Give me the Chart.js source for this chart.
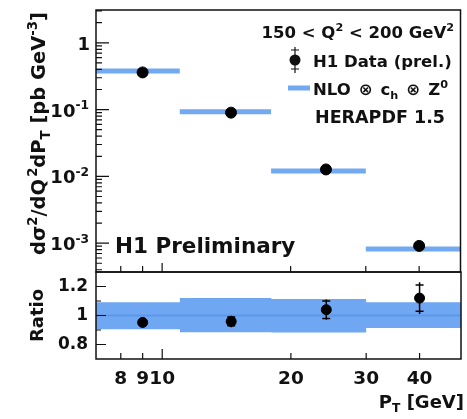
<!DOCTYPE html>
<html>
<head>
<meta charset="utf-8">
<script src="https://cdn.jsdelivr.net/npm/chart.js@4.4.1/dist/chart.umd.min.js"></script>
<style>
  html, body { margin: 0; padding: 0; background: #fff; }
  #wrap { position: relative; width: 467px; height: 419px; }
  #wrap canvas { position: absolute; left: 0; top: 0; }
</style>
</head>
<body>
<div id="wrap">
  <canvas id="xsec" width="467" height="419"></canvas>
  <canvas id="ratio" width="467" height="419"></canvas>
</div>
<script>
// P_T bins [GeV] and bin centres
const binLo = [7, 11, 18, 30];
const binHi = [11, 18, 30, 50];
const ptCentre = [9, 14.5, 24.2, 40];

// d2sigma/dQ2dPT [pb GeV^-3]
const xsecData = [0.36, 0.090, 0.0127, 0.00091];
const xsecNLO = [0.38, 0.093, 0.0120, 0.00082];

// data / NLO
const ratioData = [0.952, 0.959, 1.04, 1.12];
const ratioStat = [0.015, 0.03, 0.06, 0.09];
const ratioTot = [0.02, 0.04, 0.07, 0.11];
const bandLo = [0.905, 0.885, 0.883, 0.913];
const bandHi = [1.092, 1.12, 1.113, 1.092];

// axis ticks
const xTicks = [8, 9, 10, 20, 30, 40];
const xsecTickExp = [0, -1, -2, -3];
const ratioTicks = [0.8, 1, 1.2];
const ratioMinor = [0.9, 1.1];

const FONT = '"DejaVu Sans", "Liberation Sans", Arial, sans-serif';
const BLUE = '#72a9f0';
const BAND = '#70a7f2';
const BAND_LINE = '#5b97ea';

// draw a run of text pieces; {t, s:'sup'|'sub'} or {gap}
function drawRich(ctx, pieces, x, y, size, align) {
  const parts = pieces.map(p => {
    if (p.gap) return { t: '', w: p.gap, fs: size, dy: 0 };
    const fs = p.s ? size * 0.68 : size;
    ctx.font = 'bold ' + fs + 'px ' + FONT;
    return { t: p.t, fs, w: ctx.measureText(p.t).width,
             dy: p.s === 'sup' ? -size * 0.42 : p.s === 'sub' ? size * 0.24 : 0 };
  });
  const total = parts.reduce((a, p) => a + p.w, 0);
  let cx = align === 'right' ? x - total : align === 'center' ? x - total / 2 : x;
  ctx.textAlign = 'left';
  ctx.textBaseline = 'alphabetic';
  parts.forEach(p => {
    ctx.font = 'bold ' + p.fs + 'px ' + FONT;
    if (p.t) ctx.fillText(p.t, cx, y + p.dy);
    cx += p.w;
  });
}

function drawFrame(ctx, a) {
  ctx.save();
  ctx.strokeStyle = '#111';
  ctx.lineWidth = 1.5;
  ctx.strokeRect(a.left, a.top, a.right - a.left, a.bottom - a.top);
  ctx.restore();
}

function xTickMarks(ctx, chart, big) {
  const a = chart.chartArea, x = chart.scales.x;
  ctx.beginPath();
  xTicks.forEach(v => {
    const px = x.getPixelForValue(v);
    const len = v === 10 ? big : 6;
    ctx.moveTo(px, a.bottom);
    ctx.lineTo(px, a.bottom - len);
  });
  ctx.stroke();
}

const xsecDecor = {
  id: 'xsecDecor',
  afterDatasetsDraw(chart) {
    const ctx = chart.ctx, a = chart.chartArea, y = chart.scales.y;
    ctx.save();
    ctx.strokeStyle = '#111';
    ctx.lineWidth = 1.2;
    // log ticks on the left edge
    ctx.beginPath();
    for (let d = -4; d <= 0; d++) {
      for (let m = 1; m <= 9; m++) {
        const v = m * Math.pow(10, d);
        if (v < y.min || v > y.max) continue;
        const py = y.getPixelForValue(v);
        ctx.moveTo(a.left, py);
        ctx.lineTo(a.left + (m === 1 ? 13 : 6), py);
      }
    }
    ctx.stroke();
    xTickMarks(ctx, chart, 9);

    // decade labels
    ctx.fillStyle = '#111';
    xsecTickExp.forEach(e => {
      const py = y.getPixelForValue(Math.pow(10, e));
      if (e === 0) drawRich(ctx, [{ t: '1' }], 90, py + 7, 18, 'right');
      else drawRich(ctx, [{ t: '10' }, { t: String(e), s: 'sup' }], 89, py + 7, 18, 'right');
    });

    // axis title
    ctx.save();
    ctx.translate(45, 12);
    ctx.rotate(-Math.PI / 2);
    drawRich(ctx, [{ t: 'dσ' }, { t: '2', s: 'sup' }, { t: '/dQ' }, { gap: 2 }, { t: '2', s: 'sup' },
      { t: 'dP' }, { t: 'T', s: 'sub' }, { t: ' [pb GeV' }, { t: '-3', s: 'sup' }, { t: ']' }],
      0, 0, 19.5, 'right');
    ctx.restore();

    // legend
    drawRich(ctx, [{ t: '150 < Q' }, { t: '2', s: 'sup' }, { t: ' < 200 GeV' }, { t: '2', s: 'sup' }],
      454, 38, 16.5, 'right');
    ctx.beginPath();
    ctx.moveTo(295, 47); ctx.lineTo(295, 73);
    ctx.moveTo(291, 50); ctx.lineTo(299, 50);
    ctx.moveTo(291, 69); ctx.lineTo(299, 69);
    ctx.stroke();
    ctx.beginPath();
    ctx.arc(295, 60, 5.5, 0, Math.PI * 2);
    ctx.fill();
    drawRich(ctx, [{ t: 'H1 Data (prel.)' }], 313, 67, 16.5, 'left');
    ctx.strokeStyle = BLUE;
    ctx.lineWidth = 5;
    ctx.beginPath();
    ctx.moveTo(288, 88); ctx.lineTo(310, 88);
    ctx.stroke();
    drawRich(ctx, [{ t: 'NLO' }, { gap: 8 }, { t: '⊗' }, { gap: 8 }, { t: 'c' }, { t: 'h', s: 'sub' },
      { gap: 8 }, { t: '⊗' }, { gap: 8 }, { t: 'Z' }, { t: '0', s: 'sup' }],
      313, 95, 16.5, 'left');
    drawRich(ctx, [{ t: 'HERAPDF 1.5' }], 315, 123, 17.5, 'left');
    drawRich(ctx, [{ t: 'H1 Preliminary' }], 115, 253, 21.5, 'left');

    drawFrame(ctx, a);
    ctx.restore();
  }
};

const ratioDecor = {
  id: 'ratioDecor',
  afterDatasetsDraw(chart) {
    const ctx = chart.ctx, a = chart.chartArea, x = chart.scales.x, y = chart.scales.y;
    ctx.save();
    ctx.strokeStyle = '#111';
    ctx.lineWidth = 1.2;
    ctx.beginPath();
    ratioTicks.concat(ratioMinor).forEach(v => {
      const py = y.getPixelForValue(v);
      ctx.moveTo(a.left, py);
      ctx.lineTo(a.left + (ratioMinor.includes(v) ? 5 : 10), py);
    });
    ctx.stroke();
    xTickMarks(ctx, chart, 10);

    // error bars: total as line, statistical end marked by a small bar
    ctx.strokeStyle = '#000';
    ctx.lineWidth = 1.5;
    ctx.beginPath();
    ptCentre.forEach((pt, i) => {
      const px = x.getPixelForValue(pt);
      ctx.moveTo(px, y.getPixelForValue(ratioData[i] + ratioTot[i]));
      ctx.lineTo(px, y.getPixelForValue(ratioData[i] - ratioTot[i]));
      [1, -1].forEach(sg => {
        const py = y.getPixelForValue(ratioData[i] + sg * ratioStat[i]);
        ctx.moveTo(px - 4, py);
        ctx.lineTo(px + 4, py);
      });
    });
    ctx.stroke();

    // P_T tick labels under the frame
    ctx.fillStyle = '#111';
    xTicks.forEach(v => {
      drawRich(ctx, [{ t: String(v) }], x.getPixelForValue(v), a.bottom + 25, 18.5, 'center');
    });

    ctx.save();
    ctx.translate(43, (a.top + a.bottom) / 2);
    ctx.rotate(-Math.PI / 2);
    drawRich(ctx, [{ t: 'Ratio' }], 0, 0, 18, 'center');
    ctx.restore();
    drawRich(ctx, [{ t: 'P' }, { t: 'T', s: 'sub' }, { t: ' [GeV]' }], 464, 408, 18, 'right');

    drawFrame(ctx, a);
    ctx.restore();
  }
};

// NLO prediction drawn as one horizontal segment per bin
const nloSegments = [];
binLo.forEach((lo, i) => {
  nloSegments.push({ x: lo, y: xsecNLO[i] }, { x: binHi[i], y: xsecNLO[i] }, { x: binHi[i], y: null });
});

// uncertainty band edges as steps over the bins
const last = binLo.length - 1;
const bandHiPts = binLo.map((lo, i) => ({ x: lo, y: bandHi[i] })).concat({ x: binHi[last], y: bandHi[last] });
const bandLoPts = binLo.map((lo, i) => ({ x: lo, y: bandLo[i] })).concat({ x: binHi[last], y: bandLo[last] });

new Chart(document.getElementById('xsec'), {
  type: 'scatter',
  data: {
    datasets: [
      {
        label: 'H1 Data (prel.)',
        data: ptCentre.map((pt, i) => ({ x: pt, y: xsecData[i] })),
        backgroundColor: '#000', borderColor: '#000',
        pointRadius: 5.5, pointHoverRadius: 5.5
      },
      {
        type: 'line',
        label: 'NLO',
        data: nloSegments,
        borderColor: BLUE, borderWidth: 5, borderCapStyle: 'butt',
        pointRadius: 0, spanGaps: false, tension: 0
      }
    ]
  },
  options: {
    responsive: false, animation: false,
    layout: { padding: { left: 96, right: 2, top: 10, bottom: 147 } },
    plugins: { legend: { display: false }, tooltip: { enabled: false } },
    scales: {
      x: { type: 'logarithmic', min: 7, max: 50, bounds: 'data', display: false },
      y: { type: 'logarithmic', min: 3.7e-4, max: 3.1, bounds: 'data', display: false }
    }
  },
  plugins: [xsecDecor]
});

new Chart(document.getElementById('ratio'), {
  type: 'scatter',
  data: {
    datasets: [
      {
        label: 'Data/NLO',
        data: ptCentre.map((pt, i) => ({ x: pt, y: ratioData[i] })),
        backgroundColor: '#000', borderColor: '#000',
        pointRadius: 5, pointHoverRadius: 5
      },
      {
        type: 'line', label: 'unity',
        data: [{ x: binLo[0], y: 1 }, { x: binHi[last], y: 1 }],
        borderColor: BAND_LINE, borderWidth: 2, pointRadius: 0
      },
      {
        type: 'line', label: 'band high',
        data: bandHiPts, stepped: 'before',
        borderWidth: 0, pointRadius: 0, backgroundColor: BAND, fill: '+1'
      },
      {
        type: 'line', label: 'band low',
        data: bandLoPts, stepped: 'before',
        borderWidth: 0, pointRadius: 0, fill: false
      }
    ]
  },
  options: {
    responsive: false, animation: false,
    layout: { padding: { left: 0, right: 2, top: 272, bottom: 10 } },
    plugins: { legend: { display: false }, tooltip: { enabled: false } },
    scales: {
      x: {
        type: 'logarithmic', min: 7, max: 50, bounds: 'data',
        afterFit: s => { s.height = 50; },
        grid: { display: false, drawTicks: false }, border: { display: false },
        ticks: { display: false }
      },
      y: {
        type: 'linear', min: 0.7, max: 1.3,
        afterBuildTicks: s => { s.ticks = ratioTicks.map(v => ({ value: v })); },
        afterFit: s => { s.width = 96; },
        grid: { display: false, drawTicks: false }, border: { display: false },
        ticks: {
          padding: 8, color: '#111',
          font: { family: FONT, size: 17, weight: 'bold' },
          callback: v => String(v)
        }
      }
    }
  },
  plugins: [ratioDecor]
});
</script>
</body>
</html>
